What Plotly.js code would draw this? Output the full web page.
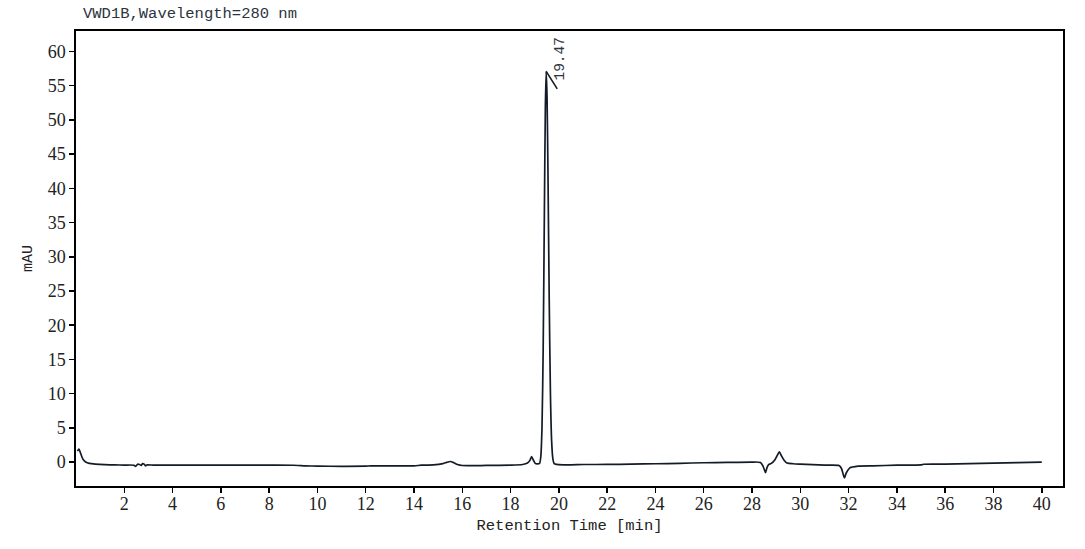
<!DOCTYPE html>
<html>
<head>
<meta charset="utf-8">
<script src="https://cdn.plot.ly/plotly-3.0.1.min.js"></script>
<style>html,body{margin:0;padding:0;background:#fff;}#chart{width:1085px;height:549px;}</style>
</head>
<body>
<div id="chart"></div>
<script>
// Retention time (min) and detector signal (mAU)
const retentionTime = [
  0.06, 0.12, 0.18, 0.25, 0.32, 0.40, 0.55, 0.80, 1.20, 1.60, 2.00, 2.40,
  2.47, 2.55, 2.63, 2.70, 2.76, 2.82, 2.88, 2.95, 3.20, 4.00, 5.00, 6.00,
  7.00, 8.00, 9.00, 9.50, 10.00, 11.00, 12.00, 12.20, 12.60, 13.00, 14.00, 14.30,
  14.80, 15.20, 15.35, 15.50, 15.65, 15.80, 16.00, 16.50, 17.00, 18.00, 18.50, 18.70,
  18.80, 18.87, 18.94, 19.02, 19.10, 19.20, 19.25, 19.30, 19.35, 19.40, 19.44, 19.475,
  19.51, 19.55, 19.60, 19.65, 19.70, 19.75, 19.80, 19.90, 20.20, 20.50, 21.00, 22.00,
  23.00, 24.00, 25.00, 26.00, 27.00, 28.00, 28.35, 28.45, 28.52, 28.56, 28.62, 28.70,
  28.80, 28.95, 29.05, 29.13, 29.22, 29.32, 29.45, 29.70, 30.00, 31.00, 31.60, 31.70,
  31.77, 31.83, 31.90, 32.05, 32.40, 33.00, 34.00, 35.00, 35.10, 36.00, 37.00, 38.00,
  39.00, 40.00
];
const signalMAU = [
  1.60, 1.90, 1.40, 0.70, 0.25, 0.00, -0.20, -0.30, -0.38, -0.42, -0.44, -0.46,
  -0.62, -0.32, -0.36, -0.48, -0.22, -0.30, -0.55, -0.42, -0.45, -0.46, -0.46, -0.46,
  -0.46, -0.46, -0.47, -0.55, -0.60, -0.62, -0.60, -0.55, -0.56, -0.56, -0.55, -0.46,
  -0.42, -0.22, -0.05, 0.08, -0.10, -0.35, -0.50, -0.52, -0.50, -0.46, -0.36, -0.15,
  0.25, 0.78, 0.30, -0.20, -0.28, -0.20, 0.75, 4.90, 16.60, 36.70, 51.90, 57.10,
  53.30, 41.80, 23.80, 10.10, 3.10, 0.50, -0.20, -0.35, -0.40, -0.40, -0.36, -0.35,
  -0.30, -0.25, -0.18, -0.10, -0.04, 0.00, -0.05, -0.55, -1.20, -1.55, -0.80, -0.35,
  -0.20, 0.35, 1.00, 1.50, 0.90, 0.30, -0.15, -0.25, -0.30, -0.45, -0.50, -0.90,
  -1.70, -2.30, -1.60, -0.85, -0.60, -0.55, -0.46, -0.42, -0.32, -0.30, -0.22, -0.15,
  -0.08, 0.00
];
const xTickVals = [2, 4, 6, 8, 10, 12, 14, 16, 18, 20, 22, 24, 26, 28, 30, 32, 34, 36, 38, 40];
const xTickText = ['2', '4', '6', '8', '10', '12', '14', '16', '18', '20', '22', '24', '26', '28', '30', '32', '34', '36', '38', '40'];
const yTickVals = [0, 5, 10, 15, 20, 25, 30, 35, 40, 45, 50, 55, 60];
const yTickText = ['0', '5', '10', '15', '20', '25', '30', '35', '40', '45', '50', '55', '60'];
const peakLabel = '19.47';
const chartTitle = 'VWD1B,Wavelength=280 nm';
const xTitle = 'Retention Time [min]';
const yTitle = 'mAU';

// apex of the main peak, taken from the data
let apexIdx = 0;
signalMAU.forEach((v, i) => { if (v > signalMAU[apexIdx]) apexIdx = i; });
const apexX = retentionTime[apexIdx];
const apexY = signalMAU[apexIdx];

const monoFont = 'Liberation Mono, DejaVu Sans Mono, monospace';
const serifFont = 'Liberation Serif, DejaVu Serif, serif';

const trace = {
  x: retentionTime,
  y: signalMAU,
  type: 'scatter',
  mode: 'lines',
  line: {color: '#131b28', width: 1.7, shape: 'spline', smoothing: 0.6},
  hoverinfo: 'skip'
};

const layout = {
  width: 1085,
  height: 549,
  margin: {l: 76, r: 22, t: 31, b: 63},
  paper_bgcolor: '#ffffff',
  plot_bgcolor: '#ffffff',
  showlegend: false,
  title: {
    text: chartTitle,
    font: {family: monoFont, size: 15.5, color: '#2b3440'},
    xref: 'container', yref: 'container',
    x: 83 / 1085, xanchor: 'left',
    y: 1 - 13 / 549, yanchor: 'middle'
  },
  xaxis: {
    range: [0, 40.88],
    tickmode: 'array',
    tickvals: xTickVals,
    ticktext: xTickText,
    ticks: 'outside', ticklen: 5, tickwidth: 1.5, tickcolor: '#000',
    ticklabelstandoff: -4,
    showline: true, linecolor: '#000', linewidth: 1.6, mirror: true,
    showgrid: false, zeroline: false,
    tickfont: {family: serifFont, size: 18, color: '#222'},
    title: {text: xTitle, font: {family: monoFont, size: 15.5, color: '#222'}, standoff: 6},
    automargin: false
  },
  yaxis: {
    range: [-3.5, 63],
    tickmode: 'array',
    tickvals: yTickVals,
    ticktext: yTickText,
    ticks: 'outside', ticklen: 5, tickwidth: 1.5, tickcolor: '#000',
    showline: true, linecolor: '#000', linewidth: 1.6, mirror: true,
    showgrid: false, zeroline: false,
    tickfont: {family: serifFont, size: 18, color: '#222'},
    title: {text: yTitle, font: {family: monoFont, size: 15, color: '#222'}, standoff: 11},
    automargin: false
  },
  annotations: [
    {
      x: apexX, y: apexY, xref: 'x', yref: 'y',
      text: peakLabel, textangle: -90,
      showarrow: false,
      xanchor: 'center', yanchor: 'middle',
      xshift: 14, yshift: 13,
      font: {family: monoFont, size: 14.5, color: '#2b3440'}
    },
    {
      x: apexX, y: apexY, xref: 'x', yref: 'y',
      text: '', showarrow: true, arrowhead: 0, arrowwidth: 1.6, arrowcolor: '#131b28',
      ax: 12, ay: 19, standoff: 0, startstandoff: 0
    }
  ]
};

Plotly.newPlot('chart', [trace], layout, {displayModeBar: false, staticPlot: true});
</script>
</body>
</html>
